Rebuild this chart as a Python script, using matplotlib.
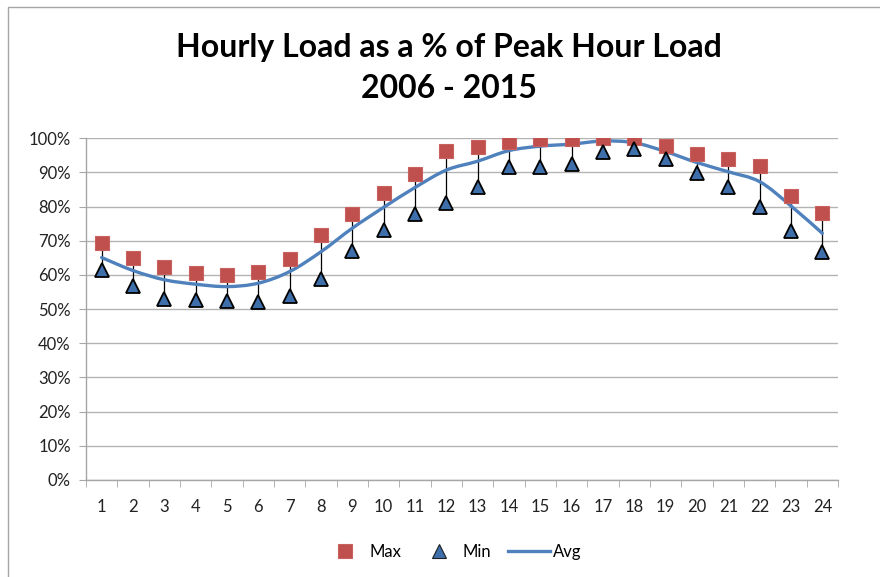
import matplotlib
matplotlib.use("Agg")
import matplotlib.pyplot as plt
from matplotlib.path import Path
from matplotlib.patches import PathPatch, Rectangle
from matplotlib.lines import Line2D
from matplotlib.ticker import FuncFormatter, MultipleLocator
import numpy as np

hours = list(range(1, 25))
max_vals = [69.5, 65.1, 62.4, 60.7, 59.9, 60.9, 64.8, 71.6, 77.8, 83.9, 89.6, 96.4,
            97.5, 98.8, 99.8, 99.7, 100.0, 100.0, 97.8, 95.5, 93.9, 91.9, 83.1, 78.0]
min_vals = [61.6, 56.8, 53.1, 52.6, 52.4, 52.0, 53.8, 58.9, 67.1, 73.2, 77.7, 81.0,
            85.7, 91.5, 91.6, 92.4, 96.0, 96.9, 93.9, 89.8, 85.7, 79.8, 72.8, 66.8]
avg_vals = [65.1, 61.3, 58.6, 57.3, 56.6, 57.6, 61.0, 66.8, 73.7, 79.8, 85.6, 90.7,
            93.3, 96.4, 97.7, 98.3, 99.2, 98.7, 96.1, 92.9, 90.2, 87.3, 80.2, 72.2]
title_lines = ["Hourly Load as a % of Peak Hour Load", "2006 - 2015"]
series_names = ["Max", "Min", "Avg"]

plt.rcParams['font.family'] = ['Lato', 'DejaVu Sans']

W, H = 880, 577
fig = plt.figure(figsize=(W / 100, H / 100), dpi=100)

# chart-area border (partially visible, like the screenshot)
fig.patches.append(Rectangle((8 / W, -0.05), 1.0, 1 - 7 / H + 0.05, transform=fig.transFigure,
                             fill=False, edgecolor='#a6a6a6', linewidth=1.0))

ax = fig.add_axes([86 / W, 1 - 480 / H, (838 - 86) / W, (480 - 138.3) / H])

x = np.array(hours, dtype=float)
ax.set_xlim(0.5, 24.5)
ax.set_ylim(0, 100)

# gridlines
ax.yaxis.set_major_locator(MultipleLocator(10))
ax.yaxis.set_major_formatter(FuncFormatter(lambda v, p: f"{int(round(v))}%"))
ax.grid(axis='y', color='#b3b3b3', linewidth=1.0)
ax.set_axisbelow(True)

# x ticks: labels at centers, tick marks at boundaries
ax.set_xticks(x)
ax.set_xticklabels([str(h) for h in hours])
ax.set_xticks(np.arange(0.5, 25, 1.0), minor=True)
ax.tick_params(axis='x', which='major', length=0, pad=14, labelsize=12, colors='#222222')
ax.tick_params(axis='x', which='minor', length=5, color='#a6a6a6', direction='out')
ax.tick_params(axis='y', length=5, color='#a6a6a6', direction='out', pad=6,
               labelsize=12, labelcolor='#222222')

for s in ['top', 'right']:
    ax.spines[s].set_visible(False)
for s in ['left', 'bottom']:
    ax.spines[s].set_color('#a6a6a6')
    ax.spines[s].set_linewidth(1.0)

# high-low lines
ax.vlines(x, min_vals, max_vals, color='black', linewidth=0.9, zorder=2)

# smoothed average line (Bezier through the data points)
y = np.array(avg_vals, dtype=float)
n = len(x)
verts = [(x[0], y[0])]
codes = [Path.MOVETO]
for i in range(n - 1):
    p0 = np.array([x[max(i - 1, 0)], y[max(i - 1, 0)]])
    p1 = np.array([x[i], y[i]])
    p2 = np.array([x[i + 1], y[i + 1]])
    p3 = np.array([x[min(i + 2, n - 1)], y[min(i + 2, n - 1)]])
    c1 = p1 + (p2 - p0) / 6.0
    c2 = p2 - (p3 - p1) / 6.0
    verts += [tuple(c1), tuple(c2), tuple(p2)]
    codes += [Path.CURVE4, Path.CURVE4, Path.CURVE4]
avg_path = PathPatch(Path(verts, codes), facecolor='none', edgecolor='#4F81BD',
                     linewidth=2.4, capstyle='round', joinstyle='round', zorder=3)
ax.add_patch(avg_path)

# markers
ax.plot(x, max_vals, linestyle='none', marker='s', markersize=10.5,
        markerfacecolor='#C0504D', markeredgecolor='#C9625F', markeredgewidth=0.8, zorder=4)
ax.plot(x, min_vals, linestyle='none', marker='^', markersize=10.5,
        markerfacecolor='#3E6FAA', markeredgecolor='black', markeredgewidth=1.3, zorder=5)

# title (two lines)
fig.text(449 / W, 1 - 47 / H, title_lines[0], ha='center', va='center', fontsize=23,
         fontweight='bold', color='black')
fig.text(449 / W, 1 - 88 / H, title_lines[1], ha='center', va='center', fontsize=23,
         fontweight='bold', color='black')

# legend
handles = [
    Line2D([], [], linestyle='none', marker='s', markersize=10, markerfacecolor='#C0504D',
           markeredgecolor='#C9625F', markeredgewidth=0.8),
    Line2D([], [], linestyle='none', marker='^', markersize=10, markerfacecolor='#3E6FAA',
           markeredgecolor='#1f1f1f', markeredgewidth=0.8),
    Line2D([], [], color='#4F81BD', linewidth=2.4),
]
fig.legend(handles, series_names, loc='center', bbox_to_anchor=(453 / W, 1 - 552 / H),
           ncol=3, frameon=False, fontsize=12, handlelength=2.5, columnspacing=1.0,
           handletextpad=0.2)

fig.savefig('out.png', dpi=100)
